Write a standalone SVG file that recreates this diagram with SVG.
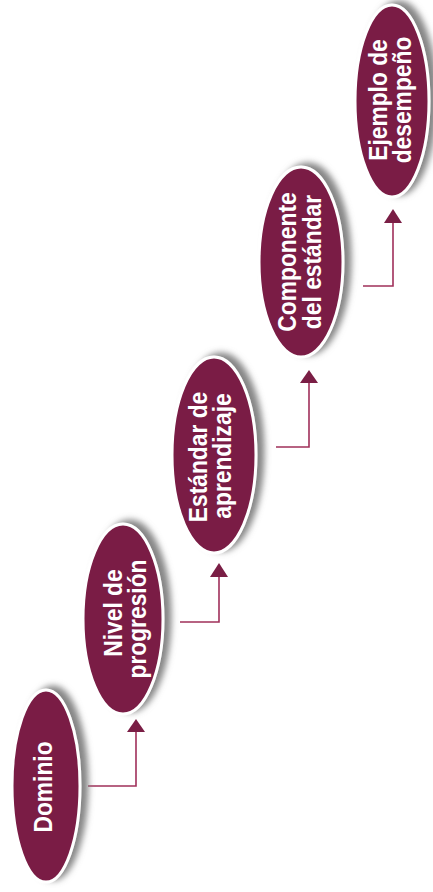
<svg xmlns="http://www.w3.org/2000/svg" width="433" height="892" viewBox="0 0 433 892">
<defs>
<filter id="sh" x="-40%" y="-20%" width="180%" height="140%">
<feGaussianBlur in="SourceAlpha" stdDeviation="3" result="b"/>
<feOffset in="b" dx="7" dy="-3" result="o"/>
<feFlood flood-color="#808080" flood-opacity="0.95"/>
<feComposite in2="o" operator="in" result="s"/>
<feMerge><feMergeNode in="s"/><feMergeNode in="SourceGraphic"/></feMerge>
</filter>
</defs>
<style>
.node ellipse{fill:#7a1e45;stroke:#ffffff;stroke-width:3;filter:url(#sh)}
.node text{fill:#ffffff;font-family:"Liberation Sans",Arial,sans-serif;font-weight:bold;font-size:24px;text-anchor:middle}
.conn path{fill:none;stroke:#a0305a;stroke-width:1.6}
.conn polygon{fill:#7a1e45}
</style>
<rect width="433" height="892" fill="#ffffff"/>
<g id="connectors" class="conn">
<path d="M88 786 H136 V731"/>
<polygon points="136,719 127,732 145,732"/>
<path d="M180 622 H219 V576"/>
<polygon points="219,563 210,577 228,577"/>
<path d="M276 447 H309 V382"/>
<polygon points="309,370 300,383 318,383"/>
<path d="M363 286 H393 V222"/>
<polygon points="393,209 384,223 402,223"/>
</g>
<g id="n1" class="node">
<ellipse cx="46" cy="786" rx="34" ry="96"/>
<text transform="translate(52,787) rotate(-90) scale(0.95,1.1)">Dominio</text>
</g>
<g id="n2" class="node">
<ellipse cx="123" cy="619" rx="40" ry="95"/>
<text transform="translate(122,613) rotate(-90) scale(0.95,1.1)">Nivel de</text>
<text transform="translate(146,619) rotate(-90) scale(0.95,1.1)">progresión</text>
</g>
<g id="n3" class="node">
<ellipse cx="214" cy="455" rx="42" ry="98"/>
<text transform="translate(207,457) rotate(-90) scale(0.95,1.1)">Estándar de</text>
<text transform="translate(231,456) rotate(-90) scale(0.95,1.1)">aprendizaje</text>
</g>
<g id="n4" class="node">
<ellipse cx="301" cy="262" rx="42" ry="95"/>
<text transform="translate(296,262) rotate(-90) scale(0.95,1.1)">Componente</text>
<text transform="translate(321,262) rotate(-90) scale(0.95,1.1)">del estándar</text>
</g>
<g id="n5" class="node">
<ellipse cx="392" cy="101" rx="37" ry="96"/>
<text transform="translate(387,100) rotate(-90) scale(0.95,1.1)">Ejemplo de</text>
<text transform="translate(411,100) rotate(-90) scale(0.95,1.1)">desempeño</text>
</g>
</svg>
